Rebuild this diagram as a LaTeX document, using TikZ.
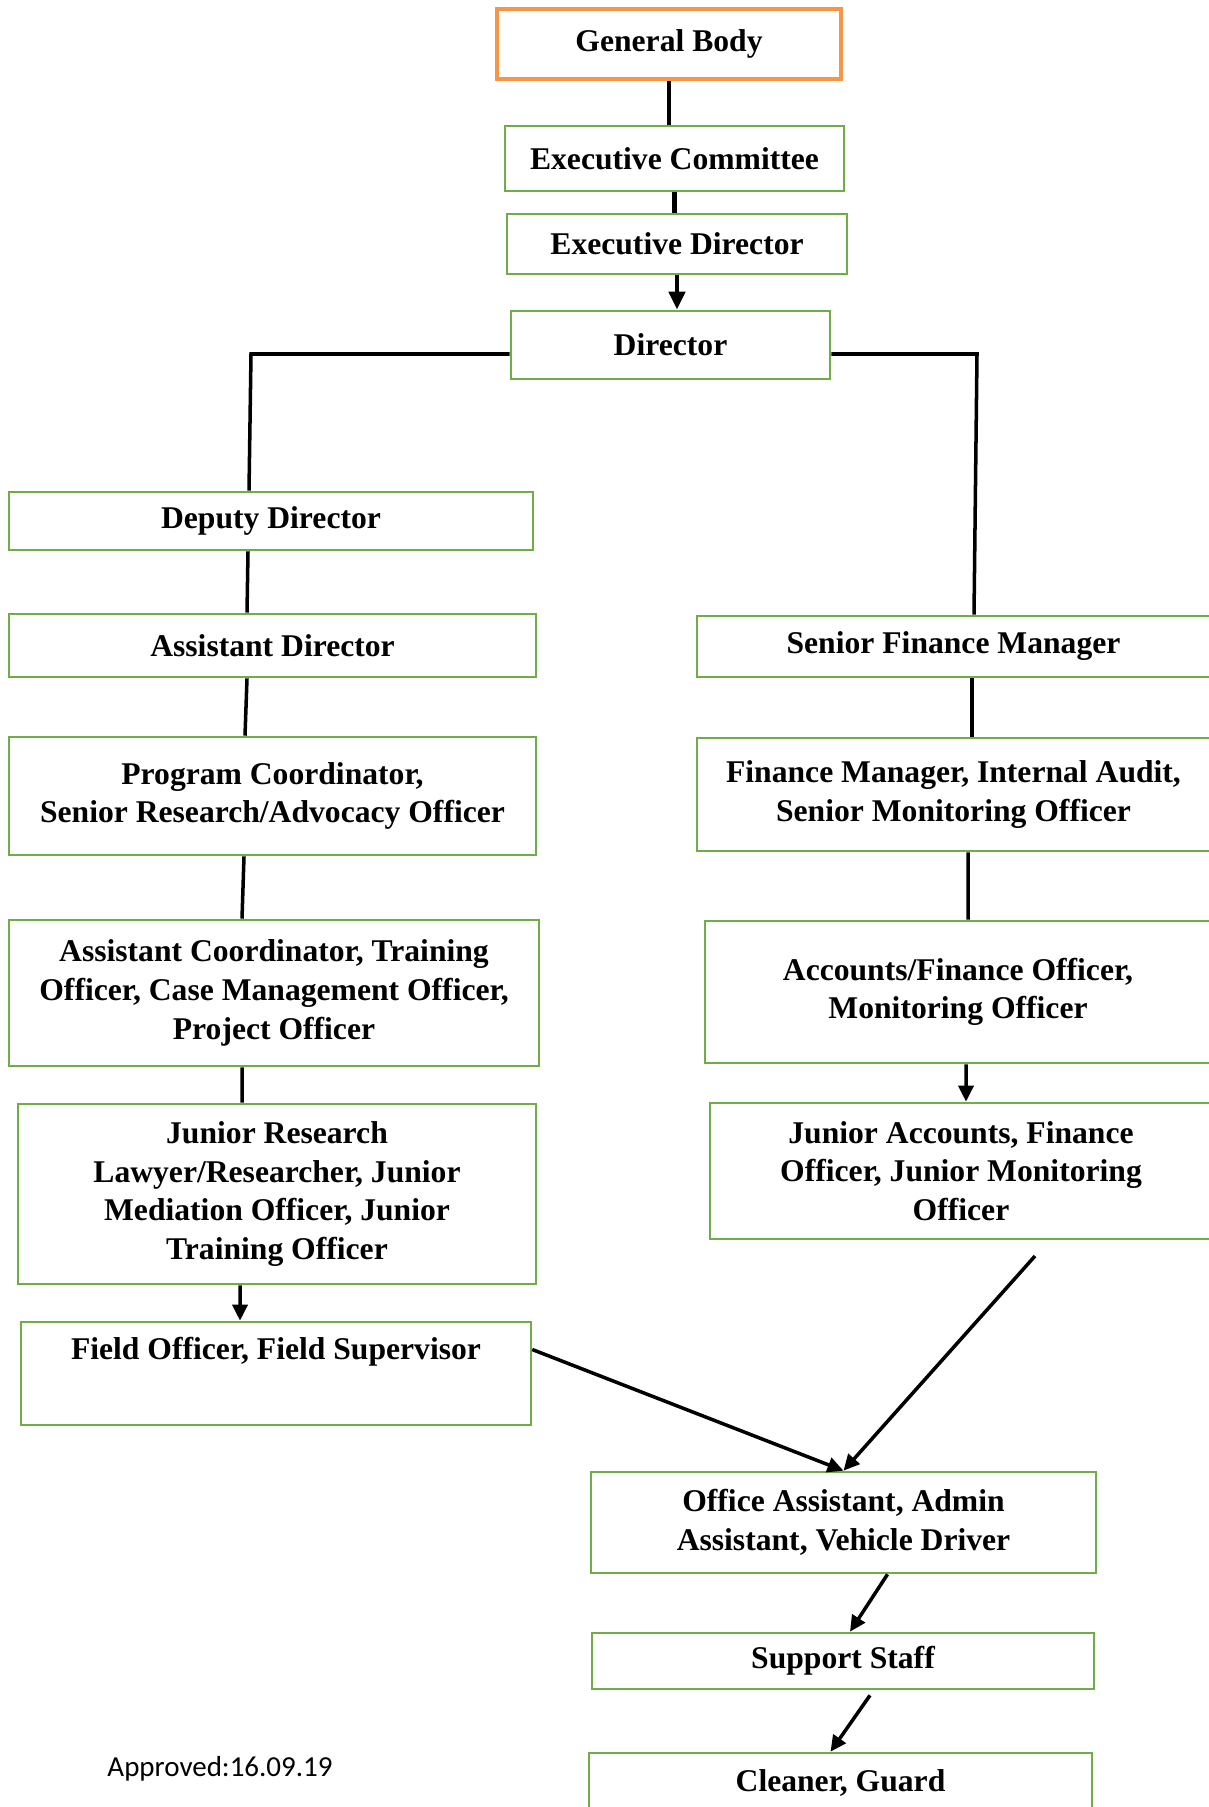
\documentclass[tikz,border=0pt]{standalone}
\usepackage{fontspec}
\setmainfont{Liberation Serif}
\newfontfamily\notefont{Carlito}
\usetikzlibrary{arrows.meta}
\definecolor{boxgreen}{HTML}{70AD47}
\definecolor{boxorange}{HTML}{F79646}

\begin{document}
\begin{tikzpicture}[x=0.02cm, y=-0.02cm,
    every node/.style={font=\fontsize{18}{22}\selectfont\bfseries, align=center, inner sep=0pt},
    box/.style={draw=boxgreen, line width=1.5pt, fill=white},
    topbox/.style={draw=boxorange, line width=2.3pt, fill=white},
    link/.style={line width=2pt},
    thicklink/.style={line width=2.8pt},
    arrow/.style={line width=2pt, -{Triangle[length=0.32cm, width=0.3cm]}}]
    \useasboundingbox (0,0) rectangle (1208,1807);

    % top of the chart
    \node[topbox, minimum width=6.88cm, minimum height=1.4cm] (GB) at (669,44) {General Body};
    \node[box, minimum width=6.78cm, minimum height=1.3cm] (EC) at (674.5,158.5) {Executive Committee};
    \node[box, minimum width=6.8cm, minimum height=1.2cm] (ED) at (677,244) {Executive Director};
    \node[box, minimum width=6.38cm, minimum height=1.36cm] (Dir) at (670.5,345) {Director};

    % left branch
    \node[box, minimum width=10.48cm, minimum height=1.16cm] (DD) at (271,521) {Deputy Director};
    \node[box, minimum width=10.54cm, minimum height=1.26cm] (AD) at (272.5,645.5) {Assistant Director};
    \node[box, minimum width=10.54cm, minimum height=2.36cm] (PC) at (272.5,796) {Program Coordinator,\\Senior Research/Advocacy Officer};
    \node[box, minimum width=10.6cm, minimum height=2.92cm] (AC) at (274,993) {Assistant Coordinator, Training\\Officer, Case Management Officer,\\Project Officer};
    \node[box, minimum width=10.36cm, minimum height=3.6cm] (JR) at (277,1194) {Junior Research\\Lawyer/Researcher, Junior\\Mediation Officer, Junior\\Training Officer};
    \node[box, minimum width=10.2cm, minimum height=2.06cm] (FO) at (276,1373.5) {Field Officer, Field Supervisor\\\strut};

    % right branch
    \node[box, minimum width=10.26cm, minimum height=1.22cm] (SFM) at (953.5,646.5) {Senior Finance Manager};
    \node[box, minimum width=10.26cm, minimum height=2.26cm] (FM) at (953.5,794.5) {Finance Manager, Internal Audit,\\Senior Monitoring Officer};
    \node[box, minimum width=10.12cm, minimum height=2.84cm] (AFO) at (958,992) {Accounts/Finance Officer,\\Monitoring Officer};
    \node[box, minimum width=10.04cm, minimum height=2.72cm] (JA) at (961,1171) {Junior Accounts, Finance\\Officer, Junior Monitoring\\Officer};

    % bottom
    \node[box, minimum width=10.1cm, minimum height=2.02cm] (OA) at (843.5,1522.5) {Office Assistant, Admin\\Assistant, Vehicle Driver};
    \node[box, minimum width=10.04cm, minimum height=1.12cm] (SS) at (843,1661) {Support Staff};
    \node[box, minimum width=10.06cm, minimum height=1.2cm] (CG) at (840.5,1783) {Cleaner, Guard};
    \node[font=\notefont\fontsize{16.5}{20}\selectfont] (note) at (220,1769) {Approved:16.09.19};

    \coordinate (dl) at (251,354);
    \coordinate (dr) at (977,354);
    \coordinate (jaend) at (1035,1256);

    % connectors
    \draw[thicklink] (GB.south) -- (GB.south |- EC.north);
    \draw[thicklink] (EC.south) -- (EC.south |- ED.north);
    \draw[thicklink, -{Triangle[length=0.36cm, width=0.32cm]}] (ED.south) -- (ED.south |- Dir.north);
    \draw[link] ([yshift=-0.18cm]Dir.west) -- (dl) -- ([xshift=-0.44cm]DD.north);
    \draw[link] ([yshift=-0.18cm]Dir.east) -- (dr) -- ([xshift=0.41cm]SFM.north);
    \draw[link] ([xshift=-0.46cm]DD.south) -- ([xshift=-0.51cm]AD.north);
    \draw[link] ([xshift=-0.51cm]AD.south) -- ([xshift=-0.55cm]PC.north);
    \draw[link] ([xshift=-0.57cm]PC.south) -- ([xshift=-0.64cm]AC.north);
    \draw[link] ([xshift=-0.64cm]AC.south) -- ([xshift=-0.7cm]JR.north);
    \draw[arrow] ([xshift=-0.74cm]JR.south) -- ([xshift=-0.72cm]FO.north);
    \draw[link] ([xshift=0.37cm]SFM.south) -- ([xshift=0.37cm]FM.north);
    \draw[link] ([xshift=0.29cm]FM.south) -- ([xshift=0.2cm]AFO.north);
    \draw[arrow] ([xshift=0.16cm]AFO.south) -- ([xshift=0.1cm]JA.north);
    \draw[arrow] ([yshift=0.48cm]FO.east) -- (OA.north);
    \draw[arrow] (jaend) -- (OA.north);
    \draw[arrow] ([xshift=0.88cm]OA.south) -- ([xshift=0.14cm]SS.north);
    \draw[arrow] ([xshift=0.54cm,yshift=-0.1cm]SS.south) -- ([xshift=-0.2cm]CG.north);
\end{tikzpicture}
\end{document}
